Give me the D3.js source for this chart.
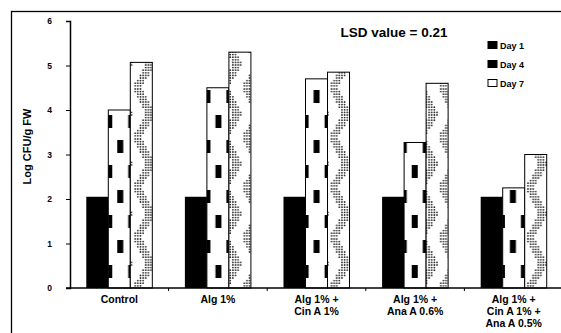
<!DOCTYPE html>
<html>
<head>
<meta charset="utf-8">
<script src="https://cdn.jsdelivr.net/npm/d3@7"></script>
<style>
  body { margin: 0; background: #fff; }
  svg { display: block; font-family: "Liberation Sans", Arial, sans-serif; }
</style>
</head>
<body>
<svg id="chart" width="561" height="333"></svg>
<script>
// chart data
const categories = [
  ["Control"],
  ["Alg 1%"],
  ["Alg 1% +", "Cin A 1%"],
  ["Alg 1% +", "Ana A 0.6%"],
  ["Alg 1% +", "Cin A 1% +", "Ana A 0.5%"]
];
const seriesNames = ["Day 1", "Day 4", "Day 7"];
const day1 = [2.05, 2.05, 2.05, 2.05, 2.05];
const day4 = [4.0, 4.5, 4.7, 3.27, 2.25];
const day7 = [5.07, 5.3, 4.85, 4.6, 3.0];
const yTicks = [0, 1, 2, 3, 4, 5, 6];
const lsdLabel = "LSD value = 0.21";

const svg = d3.select("#chart");
const margin = { left: 70, right: 563, top: 21, bottom: 288 };

const x0 = d3.scaleBand()
  .domain(d3.range(categories.length))
  .range([margin.left, margin.right]);

const x1 = d3.scaleBand()
  .domain(seriesNames)
  .range([0, x0.bandwidth()])
  .paddingOuter(0.74)
  .paddingInner(0);

const y = d3.scaleLinear().domain([0, 6]).range([margin.bottom, margin.top]);

// frame
svg.append("rect")
  .attr("x", 11.5).attr("y", 11.5)
  .attr("width", 600).attr("height", 400)
  .attr("fill", "none").attr("stroke", "#000").attr("stroke-width", 1.3);

const defs = svg.append("defs");

// Day 4: white with little black blocks, two columns alternating
function day4Pattern(id, bx) {
  const w = x1.bandwidth();
  const p = defs.append("pattern")
    .attr("id", id)
    .attr("patternUnits", "userSpaceOnUse")
    .attr("x", bx).attr("y", margin.bottom - 50)
    .attr("width", w).attr("height", 50);
  p.append("rect").attr("width", w).attr("height", 50).attr("fill", "#fff");
  p.append("rect").attr("x", 5).attr("y", 2).attr("width", 6).attr("height", 13).attr("fill", "#000");
  p.append("rect").attr("x", w - 6).attr("y", 27).attr("width", 6).attr("height", 13).attr("fill", "#000");
}

// Day 7: dotted zigzag band
function day7Pattern(id, bx) {
  const w = x1.bandwidth();
  const p = defs.append("pattern")
    .attr("id", id)
    .attr("patternUnits", "userSpaceOnUse")
    .attr("x", bx).attr("y", margin.bottom - 50)
    .attr("width", w).attr("height", 50);
  p.append("rect").attr("width", w).attr("height", 50).attr("fill", "#fff");
  const dots = [];
  for (let yy = 1; yy < 50; yy += 2.6) {
    const t = yy < 25 ? yy / 25 : (50 - yy) / 25;
    const cx = 3 + t * 13;
    for (let xx = 1; xx < w; xx += 2.6) {
      if (Math.abs(xx - cx) < 4.5) dots.push([xx, yy]);
    }
  }
  p.selectAll("circle").data(dots).join("circle")
    .attr("cx", d => d[0]).attr("cy", d => d[1]).attr("r", 0.9).attr("fill", "#333");
}

const rows = categories.map((c, i) => ({
  i,
  values: [
    { key: "Day 1", v: day1[i] },
    { key: "Day 4", v: day4[i] },
    { key: "Day 7", v: day7[i] }
  ]
}));

const groups = svg.append("g").selectAll("g")
  .data(rows)
  .join("g")
  .attr("transform", d => `translate(${x0(d.i)},0)`);

groups.selectAll("rect")
  .data(d => d.values.map(v => ({ ...v, i: d.i })))
  .join("rect")
  .attr("x", d => x1(d.key))
  .attr("y", d => y(d.v))
  .attr("width", x1.bandwidth())
  .attr("height", d => y(0) - y(d.v))
  .attr("fill", d => {
    const bx = x0(d.i) + x1(d.key);
    if (d.key === "Day 4") { day4Pattern("p4_" + d.i, bx); return `url(#p4_${d.i})`; }
    if (d.key === "Day 7") { day7Pattern("p7_" + d.i, bx); return `url(#p7_${d.i})`; }
    return "#000";
  })
  .attr("stroke", d => d.key === "Day 1" ? "none" : "#000")
  .attr("stroke-width", 1);

// y axis
const yAxis = svg.append("g")
  .attr("transform", `translate(${margin.left},0)`)
  .call(d3.axisLeft(y).tickValues(yTicks).tickSize(4).tickPadding(14).tickFormat(d3.format("d")));
yAxis.select(".domain").attr("stroke-width", 1.5);
yAxis.selectAll("text").attr("font-size", 8.5).attr("font-weight", "bold").attr("fill", "#000");

svg.append("text")
  .attr("transform", `translate(31,${(margin.top + margin.bottom) / 2 - 8}) rotate(-90)`)
  .attr("text-anchor", "middle")
  .attr("font-size", 11).attr("font-weight", "bold")
  .text("Log CFU/g FW");

// x axis
const xAxis = svg.append("g")
  .attr("transform", `translate(0,${margin.bottom})`);
xAxis.append("line")
  .attr("x1", margin.left - 4).attr("x2", margin.right)
  .attr("stroke", "#000").attr("stroke-width", 1.5);
xAxis.selectAll("line.tick")
  .data(d3.range(1, categories.length))
  .join("line")
  .attr("class", "tick")
  .attr("x1", d => x0(d)).attr("x2", d => x0(d))
  .attr("y1", 0).attr("y2", 3)
  .attr("stroke", "#000");

xAxis.selectAll("text")
  .data(rows)
  .join("text")
  .attr("text-anchor", "middle")
  .attr("font-size", 10.5).attr("font-weight", "bold")
  .attr("transform", d => `translate(${x0(d.i) + x0.bandwidth() / 2},15)`)
  .selectAll("tspan")
  .data(d => categories[d.i])
  .join("tspan")
  .attr("x", 0)
  .attr("dy", (d, k) => k === 0 ? 0 : 12)
  .text(d => d);

// LSD label
svg.append("text")
  .attr("x", 394).attr("y", 37)
  .attr("text-anchor", "middle")
  .attr("font-size", 13.5).attr("font-weight", "bold")
  .text(lsdLabel);

// legend
const legend = svg.append("g").attr("transform", "translate(488,45)");
const lg = legend.selectAll("g")
  .data(seriesNames)
  .join("g")
  .attr("transform", (d, i) => `translate(0,${i * 19})`);
lg.append("rect")
  .attr("x", 0).attr("y", -3.5)
  .attr("width", 9).attr("height", 7)
  .attr("fill", (d, i) => i === 2 ? "#fff" : "#000")
  .attr("stroke", "#000").attr("stroke-width", 1);
lg.append("text")
  .attr("x", 12).attr("y", 3.5)
  .attr("font-size", 9).attr("font-weight", "bold")
  .text(d => d);
</script>
</body>
</html>
